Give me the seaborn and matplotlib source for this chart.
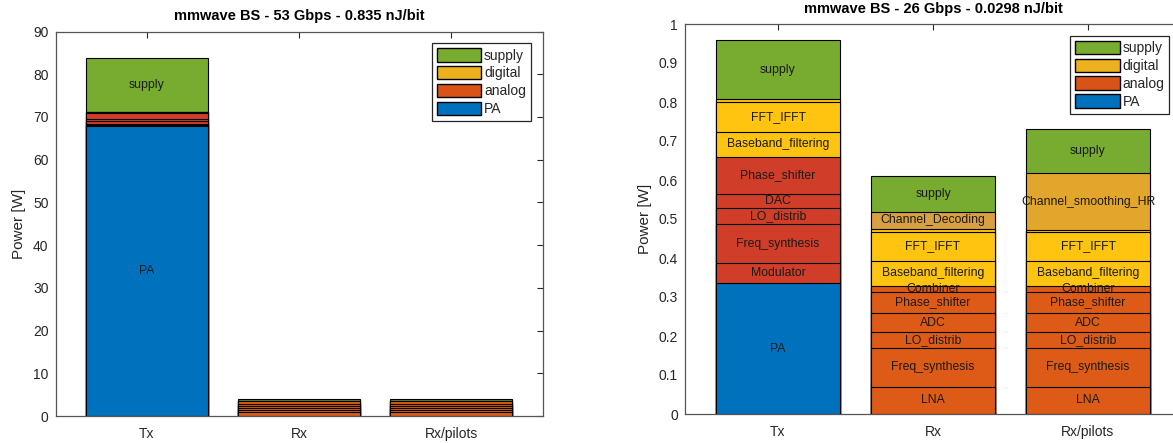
import matplotlib
matplotlib.use('Agg')
import matplotlib.pyplot as plt
from matplotlib.patches import Patch
import seaborn as sns
import numpy as np

##################################################################################
# Data (power per block, W)
##################################################################################
cats = ['Tx', 'Rx', 'Rx/pilots']

tx_names = ['PA', 'Modulator', 'Freq_synthesis', 'LO_distrib', 'DAC', 'Phase_shifter',
            'Baseband_filtering', 'FFT_IFFT', 'Channel_coding', 'supply']
tx_groups = ['PA', 'analog', 'analog', 'analog', 'analog', 'analog',
             'digital', 'digital', 'digital', 'supply']

rx_names = ['LNA', 'Freq_synthesis', 'LO_distrib', 'ADC', 'Phase_shifter', 'Combiner',
            'Baseband_filtering', 'FFT_IFFT', 'Demodulation', 'Channel_Decoding', 'supply']
rx_groups = ['analog', 'analog', 'analog', 'analog', 'analog', 'analog',
             'digital', 'digital', 'digital', 'decoding', 'supply']

rxp_names = ['LNA', 'Freq_synthesis', 'LO_distrib', 'ADC', 'Phase_shifter', 'Combiner',
             'Baseband_filtering', 'FFT_IFFT', 'Demodulation', 'Channel_smoothing_HR', 'supply']
rxp_groups = ['analog', 'analog', 'analog', 'analog', 'analog', 'analog',
              'digital', 'digital', 'digital', 'smoothing', 'supply']

# 53 Gbps configuration (left)
tx53 = [67.8, 0.2, 0.4, 0.6, 0.45, 1.55, 0.05, 0.06, 0.01, 12.7]
rx53 = [0.94, 0.46, 0.54, 0.46, 0.4, 0.6, 0.03, 0.03, 0.01, 0.03, 0.4]
rxp53 = [0.94, 0.46, 0.54, 0.46, 0.4, 0.6, 0.03, 0.03, 0.01, 0.03, 0.4]

# 26 Gbps configuration (right)
tx26 = [0.335, 0.052, 0.100, 0.040, 0.036, 0.097, 0.064, 0.075, 0.009, 0.150]
rx26 = [0.070, 0.100, 0.041, 0.047, 0.056, 0.015, 0.064, 0.074, 0.008, 0.043, 0.092]
rxp26 = [0.070, 0.100, 0.041, 0.047, 0.056, 0.015, 0.064, 0.074, 0.004, 0.146, 0.114]

titles = ['mmwave BS - 53 Gbps - 0.835 nJ/bit', 'mmwave BS - 26 Gbps - 0.0298 nJ/bit']
legend_labels = ['supply', 'digital', 'analog', 'PA']
legend_colors = ['#77AC30', '#EDB120', '#D95319', '#0072BD']

# segment colours per bar
tx_cols = {'PA': '#0072BD', 'analog': '#D03E29', 'digital': '#FFC40F', 'supply': '#77AC30'}
rx_cols = {'analog': '#DE5B17', 'digital': '#FFC40F', 'decoding': '#D9A041',
           'smoothing': '#E2A62C', 'supply': '#77AC30'}

##################################################################################
# Plotting
##################################################################################
sns.set_theme(style='white')
plt.rcParams['font.family'] = ['Liberation Sans', 'DejaVu Sans']

fig = plt.figure(figsize=(11.73, 4.43), dpi=100)
ax0 = fig.add_axes([55.5 / 1173, 27 / 443, 487 / 1173, 384.5 / 443])
ax1 = fig.add_axes([685 / 1173, 29 / 443, 496 / 1173, 390 / 443])

panels = [
    (ax0, [('Tx', tx_names, tx_groups, tx53, tx_cols),
           ('Rx', rx_names, rx_groups, rx53, rx_cols),
           ('Rx/pilots', rxp_names, rxp_groups, rxp53, rx_cols)], 90, 3.0,
     np.arange(0, 91, 10)),
    (ax1, [('Tx', tx_names, tx_groups, tx26, tx_cols),
           ('Rx', rx_names, rx_groups, rx26, rx_cols),
           ('Rx/pilots', rxp_names, rxp_groups, rxp26, rx_cols)], 1, 0.012,
     np.round(np.arange(0, 1.01, 0.1), 1)),
]

for i_p, (ax, bars, ymax, min_lab, yticks) in enumerate(panels):
    for cat, names, groups, vals, cols in bars:
        tops = np.cumsum(vals)
        # draw from the top segment down so lower segments overlay
        for i in range(len(vals) - 1, -1, -1):
            sns.barplot(x=[cat], y=[tops[i]], order=cats, color=cols[groups[i]],
                        saturation=1, width=0.8, edgecolor='black', linewidth=0.8,
                        errorbar=None, ax=ax)
            if vals[i] >= min_lab:
                ax.text(cats.index(cat), tops[i] - vals[i] / 2, names[i],
                        ha='center', va='center', fontsize=8.8, color='#1a1a1a')

    ax.set_xlim(-0.6, 2.6)
    ax.set_ylim(0, ymax)
    ax.set_yticks(yticks)
    if ymax == 1:
        ax.set_yticklabels(['0'] + ['%.1f' % t for t in yticks[1:-1]] + ['1'])
    ax.set_xlabel('')
    ax.set_ylabel('Power [W]', fontsize=11, color='#262626', labelpad=5)
    ax.set_title(titles[i_p], fontweight='bold', fontsize=10.5, pad=8, color='black')

    ax.tick_params(axis='both', direction='in', top=True, right=True, length=4,
                   width=0.8, color='#262626', labelcolor='#262626', labelsize=10)
    ax.tick_params(axis='x', pad=8)
    ax.tick_params(axis='y', pad=5)
    for sp in ax.spines.values():
        sp.set_visible(True)
        sp.set_color('#555555')
        sp.set_linewidth(0.9)

    handles = [Patch(facecolor=c, edgecolor='black', linewidth=1) for c in legend_colors]
    leg = ax.legend(handles, legend_labels, loc='upper right', fontsize=10,
                    handlelength=3.2, handleheight=1.1, labelspacing=0.25,
                    handletextpad=0.2, borderpad=0.35, borderaxespad=0.85,
                    fancybox=False, framealpha=1)
    leg.get_frame().set_edgecolor('#262626')
    leg.get_frame().set_linewidth(0.9)

plt.savefig('out.png', dpi=100)
